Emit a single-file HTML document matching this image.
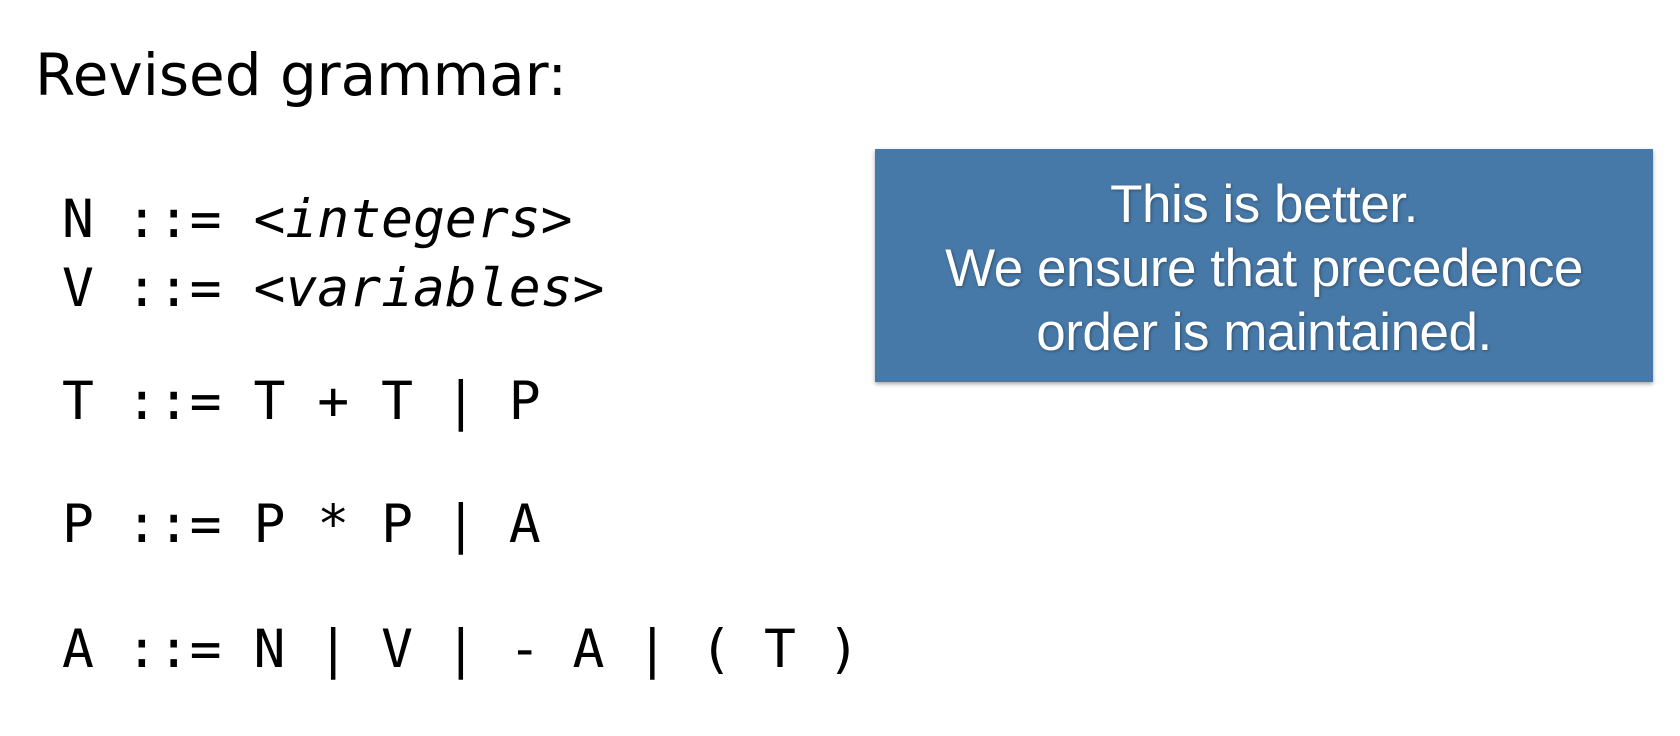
<!DOCTYPE html>
<html><head><meta charset="utf-8"><style>
html,body{margin:0;padding:0;background:#fff;width:1680px;height:736px;overflow:hidden;position:relative}
.t{position:absolute;left:35px;top:0;font-family:"DejaVu Sans","Liberation Sans",sans-serif;font-size:58px;line-height:1;color:#000}
.g{position:absolute;left:62px;font-family:"DejaVu Sans Mono","Liberation Mono",monospace;font-size:53px;line-height:1;white-space:pre;color:#000}
.box{position:absolute;left:875px;top:149px;width:778px;height:233px;background:#4779a8;box-shadow:0 2px 4px rgba(0,0,0,.35)}
.bt{position:absolute;left:875px;width:778px;text-align:center;font-family:"Liberation Sans",sans-serif;font-size:53px;letter-spacing:-0.5px;line-height:1;color:#fff;text-shadow:1px 1px 3px rgba(0,0,0,.35);white-space:pre}
</style></head><body>
<div class="t" style="top:46px">Revised grammar:</div>
<div class="g" style="top:193px">N ::= <i>&lt;integers&gt;</i></div>
<div class="g" style="top:262px">V ::= <i>&lt;variables&gt;</i></div>
<div class="g" style="top:375px">T ::= T + T | P</div>
<div class="g" style="top:498px">P ::= P * P | A</div>
<div class="g" style="top:623px">A ::= N | V | - A | ( T )</div>
<div class="box"></div>
<div class="bt" style="top:178px">This is better.</div>
<div class="bt" style="top:242px">We ensure that precedence</div>
<div class="bt" style="top:306px">order is maintained.</div>
</body></html>
